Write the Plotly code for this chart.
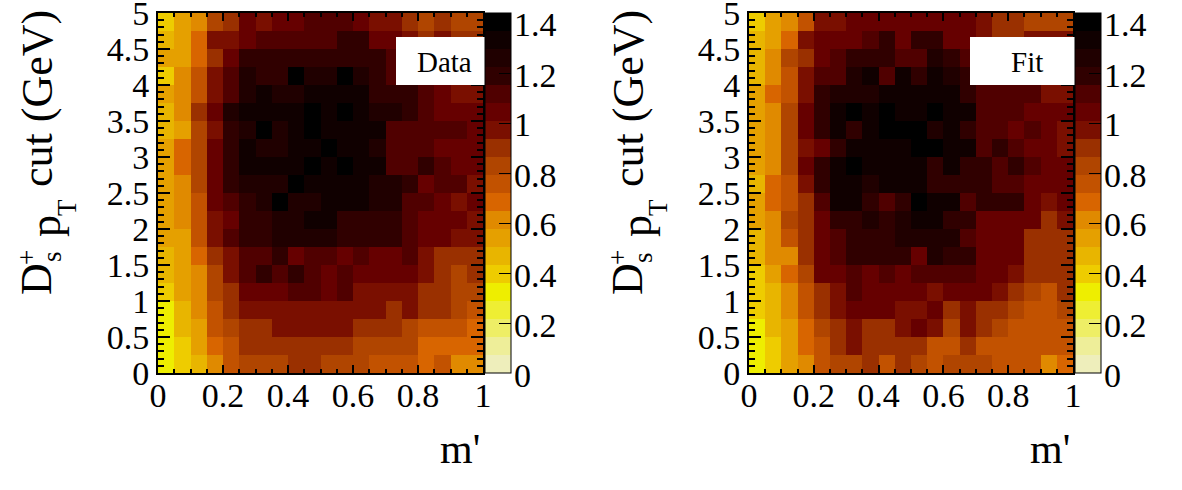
import plotly.graph_objects as go

# Bin edges shared by both panels
m_edges = [0.00, 0.05, 0.10, 0.15, 0.20, 0.25, 0.30, 0.35, 0.40, 0.45, 0.50,
           0.55, 0.60, 0.65, 0.70, 0.75, 0.80, 0.85, 0.90, 0.95, 1.00]
pt_edges = [0.00, 0.25, 0.50, 0.75, 1.00, 1.25, 1.50, 1.75, 2.00, 2.25, 2.50,
            2.75, 3.00, 3.25, 3.50, 3.75, 4.00, 4.25, 4.50, 4.75, 5.00]

# Rows run from the highest pT cut down to the lowest
data_values = [
    [.40,.54,.61,.83,.90,1.04,.97,1.04,1.04,1.12,1.12,1.12,1.04,.97,.97,.90,.83,.90,.83,.83],
    [.47,.54,.68,.97,.97,1.04,1.12,1.12,1.12,1.12,1.12,1.19,1.19,1.04,1.04,.97,.90,.97,.90,.90],
    [.54,.54,.68,.90,1.04,1.19,1.19,1.19,1.19,1.19,1.19,1.19,1.19,1.19,1.12,1.04,1.04,1.04,1.04,1.04],
    [.40,.61,.76,.97,1.12,1.26,1.19,1.19,1.40,1.26,1.26,1.40,1.26,1.19,1.12,1.04,1.04,1.04,1.04,1.04],
    [.54,.61,.76,.97,1.12,1.26,1.33,1.26,1.26,1.33,1.33,1.33,1.33,1.19,1.19,1.19,1.12,1.04,.97,.97],
    [.47,.61,.90,1.04,1.26,1.33,1.33,1.33,1.33,1.40,1.33,1.40,1.33,1.26,1.26,1.19,1.12,1.04,1.04,1.04],
    [.47,.54,.83,.97,1.19,1.26,1.40,1.26,1.33,1.40,1.33,1.33,1.33,1.33,1.12,1.12,1.12,1.12,1.12,1.04],
    [.54,.68,.83,1.04,1.19,1.33,1.26,1.26,1.33,1.33,1.40,1.33,1.33,1.26,1.12,1.12,1.12,1.04,1.04,1.04],
    [.54,.68,.83,1.04,1.19,1.33,1.33,1.33,1.33,1.40,1.33,1.40,1.33,1.33,1.12,1.12,1.19,1.12,1.04,1.04],
    [.54,.61,.83,1.04,1.19,1.26,1.26,1.26,1.40,1.33,1.33,1.33,1.33,1.26,1.26,1.19,1.04,1.12,1.12,.97],
    [.54,.61,.76,1.04,1.12,1.19,1.26,1.40,1.26,1.26,1.33,1.33,1.33,1.26,1.26,1.12,1.12,1.04,.97,1.04],
    [.54,.61,.76,.97,1.04,1.19,1.19,1.26,1.26,1.33,1.33,1.19,1.19,1.19,1.19,1.12,1.04,1.04,1.04,.97],
    [.54,.54,.76,.97,1.12,1.19,1.19,1.26,1.26,1.26,1.26,1.19,1.19,1.19,1.19,1.12,1.04,1.04,.97,.97],
    [.47,.54,.68,.90,.97,1.12,1.12,1.19,1.04,1.12,1.12,1.04,1.12,1.04,1.04,1.12,.97,.90,.90,.90],
    [.47,.54,.61,.83,.97,1.12,1.19,1.12,1.19,1.12,1.04,1.12,1.04,1.04,1.04,1.04,.97,.90,.83,.90],
    [.40,.54,.61,.83,.90,1.04,1.04,1.04,1.12,1.12,1.04,1.12,.97,.97,.97,.97,.90,.90,.83,.83],
    [.32,.47,.61,.76,.90,.97,.97,.97,.97,.97,.97,.97,.97,.97,.90,.97,.90,.90,.83,.76],
    [.32,.47,.54,.76,.83,.90,.90,.97,.97,.97,.97,.97,.90,.90,.90,.83,.76,.76,.76,.68],
    [.32,.40,.54,.68,.76,.90,.90,.90,.90,.90,.90,.90,.83,.83,.83,.83,.68,.68,.68,.68],
    [.32,.40,.47,.61,.76,.83,.83,.83,.90,.90,.83,.83,.83,.76,.76,.76,.68,.76,.61,.61],
]

fit_values = [
    [.40,.54,.61,.76,.97,.97,1.04,1.04,1.04,1.04,1.04,1.04,1.04,1.04,.97,.90,.90,.83,.83,.83],
    [.47,.54,.68,.97,1.04,1.04,1.04,1.12,1.19,1.04,1.19,1.19,1.04,1.04,.97,.90,.90,.97,.97,.97],
    [.47,.61,.83,.90,1.04,1.12,1.19,1.19,1.19,1.12,1.12,1.26,1.19,1.12,1.04,1.04,1.04,1.04,1.04,1.04],
    [.47,.61,.76,.97,1.12,1.12,1.26,1.33,1.12,1.33,1.19,1.33,1.26,1.19,1.12,1.12,1.12,1.12,1.04,1.04],
    [.54,.68,.76,.97,1.19,1.26,1.26,1.26,1.33,1.33,1.33,1.33,1.33,1.19,1.12,1.12,1.12,1.12,.97,.97],
    [.54,.61,.83,1.04,1.19,1.33,1.40,1.33,1.40,1.33,1.33,1.40,1.33,1.33,1.12,1.12,1.12,1.04,1.04,1.04],
    [.54,.61,.83,1.04,1.19,1.33,1.19,1.33,1.40,1.40,1.40,1.26,1.33,1.19,1.12,1.12,1.04,1.12,1.04,.97],
    [.54,.61,.83,.97,1.04,1.19,1.33,1.33,1.33,1.33,1.40,1.40,1.33,1.33,1.12,1.19,1.12,1.04,1.04,.97],
    [.54,.61,.83,1.04,1.19,1.33,1.40,1.33,1.33,1.33,1.33,1.19,1.33,1.19,1.19,1.12,1.19,1.12,1.04,1.04],
    [.47,.68,.76,.97,1.19,1.33,1.33,1.26,1.33,1.33,1.33,1.19,1.19,1.19,1.19,1.12,1.12,1.04,1.04,1.04],
    [.54,.68,.76,.90,1.12,1.33,1.33,1.19,1.12,1.19,1.40,1.33,1.33,1.12,1.19,1.19,1.19,1.04,.97,1.04],
    [.54,.61,.83,.90,1.04,1.19,1.19,1.26,1.19,1.26,1.33,1.33,1.19,1.19,1.04,1.04,1.04,1.04,.90,.97],
    [.47,.61,.76,.90,1.04,1.12,1.19,1.19,1.19,1.26,1.26,1.26,1.26,1.12,1.04,1.04,1.04,.90,.90,.90],
    [.47,.61,.61,.90,1.04,1.12,1.19,1.19,1.19,1.19,1.04,1.26,1.19,1.19,1.04,1.04,1.04,.90,.90,.90],
    [.40,.54,.68,.83,1.04,1.04,1.12,1.04,1.12,1.04,1.12,1.12,1.12,1.12,1.04,1.04,.97,.90,.90,.90],
    [.40,.47,.61,.76,.90,.97,1.12,1.04,1.04,1.04,1.04,.97,1.04,1.04,1.04,.97,.90,.83,.76,.90],
    [.40,.47,.61,.76,.90,.97,1.04,1.04,1.04,.97,.97,1.04,.90,.97,.90,.90,.83,.76,.76,.83],
    [.32,.47,.54,.68,.83,.90,.97,.90,.90,.97,1.04,.97,.83,.97,.90,.83,.76,.76,.76,.76],
    [.32,.40,.54,.68,.76,.90,.97,.90,.90,.90,.90,.76,.76,.90,.76,.76,.76,.76,.76,.76],
    [.32,.40,.54,.61,.76,.83,.83,.90,.76,.90,.83,.76,.83,.83,.83,.76,.76,.76,.61,.68],
]

# Stepped palette, lowest to highest level
palette = ["#EEEEBB", "#EEEE99", "#EEEE66", "#EEEE33", "#EEEE00",
           "#EECC00", "#E8B500", "#E5A000", "#E08A00", "#D86500",
           "#C25200", "#B04500", "#9A3000", "#7A0F00", "#660000",
           "#500000", "#300000", "#200000", "#100000", "#000000"]
colorscale = []
for i, c in enumerate(palette):
    colorscale += [[i / 20, c], [(i + 1) / 20, c]]

z_max = 1.44
tick_vals = [0, 0.2, 0.4, 0.6, 0.8, 1, 1.2, 1.4]
tick_text = ["0", "0.2", "0.4", "0.6", "0.8", "1", "1.2", "1.4"]
x_ticks = [0, 0.2, 0.4, 0.6, 0.8, 1]
x_text = ["0", "0.2", "0.4", "0.6", "0.8", "1"]
y_ticks = [0, 0.5, 1, 1.5, 2, 2.5, 3, 3.5, 4, 4.5, 5]
y_text = ["0", "0.5", "1", "1.5", "2", "2.5", "3", "3.5", "4", "4.5", "5"]

W, H = 1182, 490
FONT = "Liberation Serif"
TICK_SIZE = 34
TOP, BOTTOM = 13, 373
panels = [
    dict(left=158, right=483, bar=485, offset=0, values=data_values, label="Data",
         box=(396, 485), label_x=444),
    dict(left=749, right=1073, bar=1075, offset=591, values=fit_values, label="Fit",
         box=(970, 1075), label_x=1027),
]

fig = go.Figure()
annotations, shapes = [], []


def text(x, y, s, size, angle=0, xanchor="center", yanchor="middle"):
    annotations.append(dict(
        xref="paper", yref="paper", x=x / W, y=1 - y / H, text=s, showarrow=False,
        textangle=angle, xanchor=xanchor, yanchor=yanchor,
        font=dict(family=FONT, size=size, color="black"),
    ))


for n, p in enumerate(panels, start=1):
    fig.add_trace(go.Heatmap(
        x=m_edges, y=pt_edges, z=p["values"][::-1],
        xaxis=f"x{n}", yaxis=f"y{n}",
        colorscale=colorscale, zmin=0, zmax=z_max,
        xgap=0, ygap=0,
        colorbar=dict(
            xref="paper", yref="paper",
            x=p["bar"] / W, xanchor="left", xpad=0, ypad=0,
            y=1 - BOTTOM / H, yanchor="bottom",
            len=(BOTTOM - TOP) / H, lenmode="fraction",
            thickness=26, thicknessmode="pixels",
            outlinecolor="black", outlinewidth=1,
            tickmode="array", tickvals=tick_vals, ticktext=[""] * len(tick_vals),
            ticks="inside", ticklen=12, tickwidth=1, tickcolor="black",
        ),
    ))
    axis_common = dict(
        showgrid=False, zeroline=False, showline=True, linecolor="black", linewidth=2,
        mirror="ticks", ticks="inside", tickcolor="black", tickwidth=2,
        tickfont=dict(family=FONT, size=TICK_SIZE, color="black"),
        tickmode="array", automargin=False, ticklabeloverflow="allow",
    )
    fig.update_layout({
        f"xaxis{n}": dict(
            axis_common, domain=[p["left"] / W, p["right"] / W], range=[0, 1],
            anchor=f"y{n}", tickvals=x_ticks, ticktext=x_text, ticklen=8, tickangle=0,
            ticklabelstandoff=-9,
            minor=dict(tickmode="array", tickvals=m_edges, ticks="inside", ticklen=4,
                       tickcolor="black", tickwidth=2),
        ),
        f"yaxis{n}": dict(
            axis_common, domain=[1 - BOTTOM / H, 1 - TOP / H], range=[0, 5],
            anchor=f"x{n}", tickvals=y_ticks, ticktext=y_text, ticklen=12,
            minor=dict(tickmode="array", tickvals=[i / 10 for i in range(51)], ticks="inside",
                       ticklen=6, tickcolor="black", tickwidth=2),
        ),
    })

    # White caption box over the upper-right corner of the panel
    x0, x1 = p["box"]
    shapes.append(dict(type="rect", xref="paper", yref="paper", layer="above",
                       x0=x0 / W, x1=x1 / W, y0=1 - 85 / H, y1=1 - 37 / H,
                       fillcolor="white", line=dict(width=0)))
    text(p["label_x"], 62, p["label"], 29)

    # Colour bar tick labels sit closer to the bar than the library's default
    for v, s in zip(tick_vals, tick_text):
        y_px = BOTTOM - v / z_max * (BOTTOM - TOP) + 2
        text(p["bar"] + 27, y_px, s, TICK_SIZE, xanchor="left")

    # Axis titles; the stacked D_s^+ scripts need their own rotated pieces
    dx = p["offset"]
    text(p["right"] - 1, 449, "m'", 42, xanchor="right")
    text(36 + dx, 279, "D", 44, angle=-90)
    text(27 + dx, 258, "+", 27, angle=-90)
    text(52 + dx, 257, "s", 27, angle=-90)
    text(45 + dx, 226, "p", 44, angle=-90)
    text(67 + dx, 208, "T", 27, angle=-90)
    text(38 + dx, 98, "cut (GeV)", 44, angle=-90)

fig.update_layout(
    width=W, height=H, autosize=False,
    margin=dict(l=0, r=0, t=0, b=0, pad=0),
    paper_bgcolor="white", plot_bgcolor="white",
    annotations=annotations, shapes=shapes,
    font=dict(family=FONT, color="black"),
)

fig.write_html("out.html", config=dict(displayModeBar=False))
